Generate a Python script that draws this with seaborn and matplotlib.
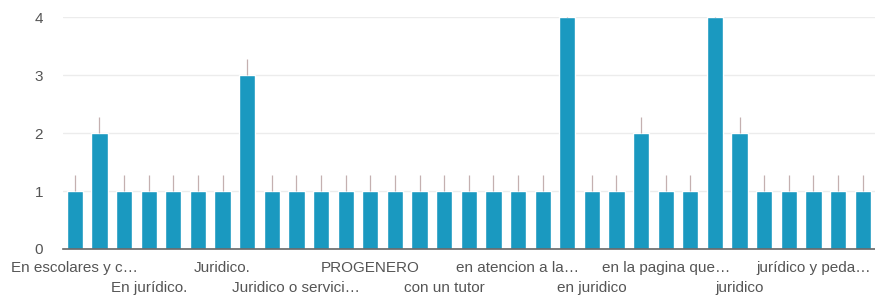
import numpy as np
import pandas as pd
import seaborn as sns
import matplotlib.pyplot as plt

# Bar values in the order shown (33 categories)
values = [1, 2, 1, 1, 1, 1, 1, 3, 1, 1, 1, 1, 1, 1, 1, 1, 1, 1, 1, 1,
          4, 1, 1, 2, 1, 1, 4, 2, 1, 1, 1, 1, 1]
# only every third category gets a visible label
tick_positions = [0, 3, 6, 9, 12, 15, 18, 21, 24, 27, 30]
tick_labels = ["En escolares y c…", "En jurídico.", "Juridico.",
               "Juridico o servici…", "PROGENERO", "con un tutor",
               "en atencion a la…", "en juridico", "en la pagina que…",
               "juridico", "jurídico y peda…"]
err_up = 0.27

df = pd.DataFrame({"idx": np.arange(len(values)), "count": values})

sns.set_style("white")
plt.rcParams["font.family"] = ["Liberation Sans", "DejaVu Sans"]

fig = plt.figure(figsize=(8.75, 2.95), dpi=100)
ax = fig.add_axes([0.0715, 0.156, 0.9285, 0.786])

sns.barplot(data=df, x="idx", y="count", color="#1a99c0", saturation=1,
            width=0.66, errorbar=None, ax=ax)
ax.errorbar(df["idx"], df["count"], yerr=[np.zeros(len(values)), np.full(len(values), err_up)],
            fmt="none", ecolor="#c4b0b0", elinewidth=0.9, capsize=0, zorder=3)

ax.set_ylim(0, 4)
ax.set_xlim(-0.5, len(values) - 0.5)
ax.set_yticks([0, 1, 2, 3, 4])
ax.yaxis.grid(True, color="#ececec", linewidth=1)
ax.set_axisbelow(True)
for s in ["top", "right", "left"]:
    ax.spines[s].set_visible(False)
ax.spines["bottom"].set_color("#666666")
ax.spines["bottom"].set_linewidth(1.2)

ax.set_xticks(tick_positions)
ax.set_xticklabels(tick_labels, fontsize=11, color="#555555")
ax.tick_params(axis="x", length=0)
# stagger the labels on two rows
for i, t in enumerate(ax.xaxis.get_major_ticks()):
    t.set_pad(9 if i % 2 == 0 else 23)
ax.tick_params(axis="y", length=0, pad=14, labelsize=11, labelcolor="#555555")
ax.set_xlabel("")
ax.set_ylabel("")

fig.savefig("out.png", dpi=100)
